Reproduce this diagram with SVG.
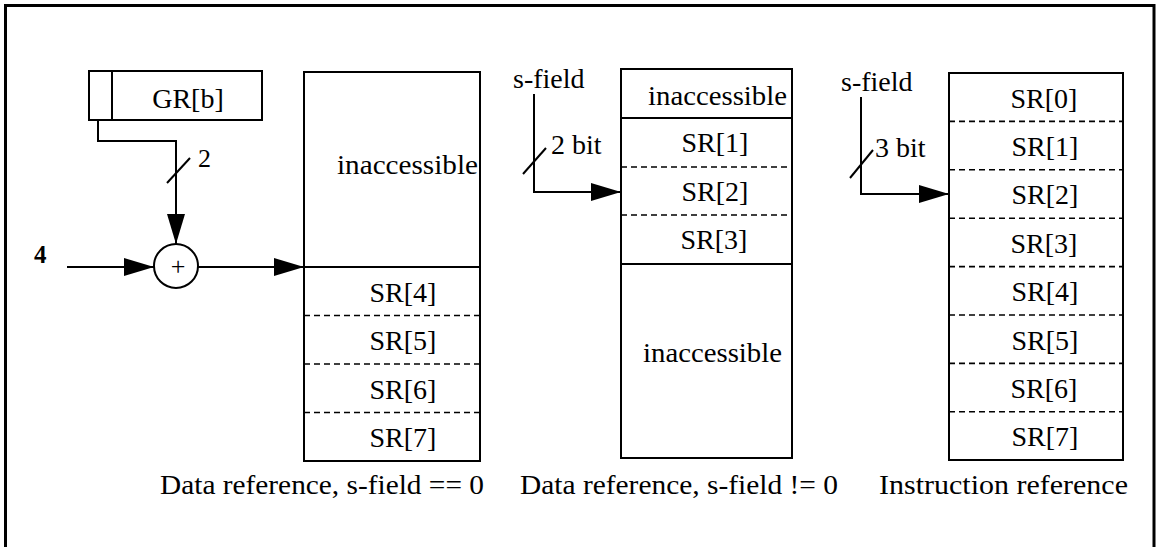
<svg xmlns="http://www.w3.org/2000/svg" width="1158" height="547" viewBox="0 0 1158 547">
  <style>
    text { font-family: "Liberation Serif", "DejaVu Serif", serif; font-size: 28px; fill: #000; }
    .mid { text-anchor: middle; }
    .box { fill: none; stroke: #000; stroke-width: 2; }
    .solid { stroke: #000; stroke-width: 2; }
    .dash { stroke: #000; stroke-width: 1.6; stroke-dasharray: 6 4; }
    .wire { fill: none; stroke: #000; stroke-width: 2; }
  </style>
  <defs>
    <marker id="arrow" markerUnits="userSpaceOnUse" markerWidth="30" markerHeight="18" viewBox="0 0 30 18" refX="30" refY="9" orient="auto">
      <path d="M0,0 L30,9 L0,18 z" fill="#000"/>
    </marker>
  </defs>
  <rect width="1158" height="547" fill="#fff"/>

  <!-- outer frame (open at the bottom edge) -->
  <path id="frame" d="M5.5,560 V5.5 H1154 V560" fill="none" stroke="#000" stroke-width="3"/>

  <g font-family="Liberation Serif, DejaVu Serif, serif">
  <!-- general register with its low-order bits split off -->
  <g id="gr-b">
    <rect class="box" x="89" y="71" width="173" height="49"/>
    <line class="solid" x1="112" y1="71" x2="112" y2="120"/>
    <text class="mid" x="188" y="108">GR[b]</text>
  </g>

  <!-- adder -->
  <g id="adder">
    <circle cx="176" cy="266" r="22" fill="none" stroke="#000" stroke-width="2"/>
    <text class="mid" x="178" y="275" style="font-size:26px">+</text>
  </g>

  <g id="const-4">
    <text x="34" y="263" style="font-size:25px;font-weight:bold">4</text>
  </g>

  <!-- Data reference, s-field == 0 -->
  <g id="data-s0">
    <rect class="box" x="304" y="72" width="176" height="389"/>
    <line class="solid" x1="304" y1="267" x2="480" y2="267"/>
    <line class="dash" x1="304" y1="315.5" x2="480" y2="315.5"/>
    <line class="dash" x1="304" y1="364" x2="480" y2="364"/>
    <line class="dash" x1="304" y1="412.5" x2="480" y2="412.5"/>
    <text x="337" y="174" textLength="141" lengthAdjust="spacingAndGlyphs">inaccessible</text>
    <text class="mid" x="403" y="302">SR[4]</text>
    <text class="mid" x="403" y="350">SR[5]</text>
    <text class="mid" x="403" y="399">SR[6]</text>
    <text class="mid" x="403" y="447">SR[7]</text>
    <text x="160" y="494" textLength="324" lengthAdjust="spacingAndGlyphs">Data reference, s-field == 0</text>
  </g>

  <!-- Data reference, s-field != 0 -->
  <g id="data-s1">
    <rect class="box" x="621" y="69" width="171" height="389"/>
    <line class="solid" x1="621" y1="118" x2="792" y2="118"/>
    <line class="dash" x1="621" y1="167" x2="792" y2="167"/>
    <line class="dash" x1="621" y1="215" x2="792" y2="215"/>
    <line class="solid" x1="621" y1="264" x2="792" y2="264"/>
    <text x="648" y="105" textLength="139" lengthAdjust="spacingAndGlyphs">inaccessible</text>
    <text class="mid" x="715" y="152">SR[1]</text>
    <text class="mid" x="715" y="201">SR[2]</text>
    <text class="mid" x="714" y="249">SR[3]</text>
    <text x="643" y="362" textLength="139" lengthAdjust="spacingAndGlyphs">inaccessible</text>
    <text x="520" y="494" textLength="318" lengthAdjust="spacingAndGlyphs">Data reference, s-field != 0</text>
    <text x="513" y="88">s-field</text>
    <text x="551" y="154">2 bit</text>
  </g>

  <!-- Instruction reference -->
  <g id="instr">
    <rect class="box" x="949" y="73" width="174" height="387"/>
    <line class="dash" x1="949" y1="121.4" x2="1123" y2="121.4"/>
    <line class="dash" x1="949" y1="169.8" x2="1123" y2="169.8"/>
    <line class="dash" x1="949" y1="218.2" x2="1123" y2="218.2"/>
    <line class="dash" x1="949" y1="266.6" x2="1123" y2="266.6"/>
    <line class="dash" x1="949" y1="315" x2="1123" y2="315"/>
    <line class="dash" x1="949" y1="363.4" x2="1123" y2="363.4"/>
    <line class="dash" x1="949" y1="411.8" x2="1123" y2="411.8"/>
    <text class="mid" x="1044" y="108">SR[0]</text>
    <text class="mid" x="1045" y="156">SR[1]</text>
    <text class="mid" x="1045" y="204">SR[2]</text>
    <text class="mid" x="1044" y="253">SR[3]</text>
    <text class="mid" x="1045" y="301">SR[4]</text>
    <text class="mid" x="1045" y="350">SR[5]</text>
    <text class="mid" x="1044" y="398">SR[6]</text>
    <text class="mid" x="1045" y="446">SR[7]</text>
    <text x="879" y="494" textLength="249" lengthAdjust="spacingAndGlyphs">Instruction reference</text>
    <text x="841" y="91">s-field</text>
    <text x="875" y="157">3 bit</text>
  </g>

  <!-- connectors -->
  <g id="connectors">
    <path class="wire" d="M67,267 H154" marker-end="url(#arrow)"/>
    <path class="wire" d="M98,120 V141 H176 V244" marker-end="url(#arrow)"/>
    <path class="wire" d="M198,267 H304" marker-end="url(#arrow)"/>
    <path class="wire" d="M534,94 V192 H621" marker-end="url(#arrow)"/>
    <path class="wire" d="M861,97 V194 H949" marker-end="url(#arrow)"/>
    <line class="solid" x1="167" y1="183" x2="190" y2="158"/>
    <line class="solid" x1="523" y1="174" x2="546" y2="148"/>
    <line class="solid" x1="850" y1="178" x2="873" y2="150"/>
    <text x="198" y="167" style="font-size:26px">2</text>
  </g>
  </g>
</svg>
